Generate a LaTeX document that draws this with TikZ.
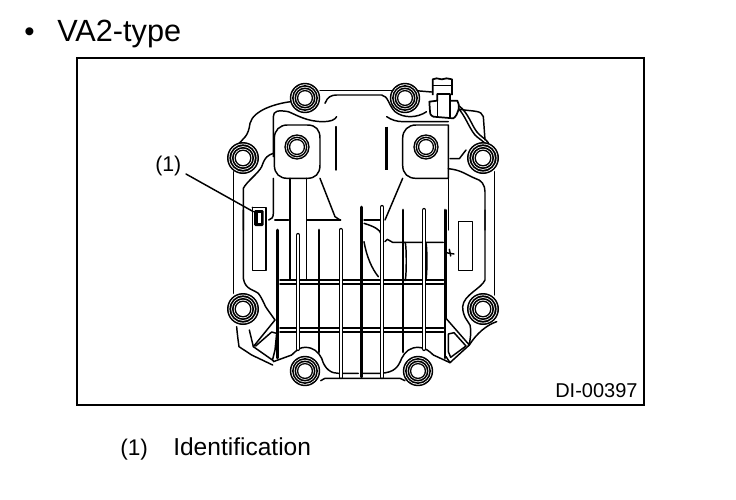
\documentclass[tikz,border=0pt]{standalone}
\usepackage{fontspec}
\setmainfont{Liberation Sans}
\tikzset{
 px/.style={x=0.75pt,y=-0.75pt},
 ink/.style={draw=black,line width=1.1pt,line cap=round,line join=round},
 crossrib/.style={draw=black,line width=1.35pt,line cap=round},
 heavy/.style={draw=black,line width=2.1pt,line cap=round},
 txt/.style={inner sep=0pt,anchor=base west,text=black},
 zone/.style={shift={(210,#1)},x=0.25pt,y=-0.25pt}
}
\newcommand{\bolt}[3]{%
 \foreach \r/\c in {1.0/black,0.90/white,0.85/black,0.74/white,0.69/black,0.58/white,0.53/black,0.44/white}{\fill[\c] (#1,#2) circle (#3*\r);}}
\newcommand{\boltb}[3]{%
 \foreach \r/\c in {1.0/black,0.88/white,0.82/black,0.70/white,0.64/black,0.53/white}{\fill[\c] (#1,#2) circle (#3*\r);}}
\begin{document}
\begin{tikzpicture}[px]
\useasboundingbox (0,0) rectangle (736,500);
\fill[white] (0,0) rectangle (736,500);
\node[txt,font=\fontsize{22}{26}\selectfont] (bullet) at (24,41) {•};
\node[txt,font=\fontsize{23}{26}\selectfont] (title) at (57,41) {VA2-type};
\draw[black,line width=1pt] (77,58) rectangle (644,405);
\node[txt,font=\fontsize{15}{18}\selectfont] (code) at (555,397) {DI-00397};
\node[txt,font=\fontsize{16}{18}\selectfont] (lab) at (155,171) {(1)};
\node[txt,font=\fontsize{17}{20}\selectfont] (n1) at (120,455) {(1)};
\node[txt,font=\fontsize{18.4}{20}\selectfont] (n2) at (173,455) {Identification};

% horizontal ribs
\begin{scope}[zone=210]
 \foreach \y in {211,222,355,365}{\draw[crossrib] (210,\y) -- (700,\y);}
 % bottom edge
 \draw[ink] (190,455) -- (245,435) .. controls (260,420) and (270,412) .. (285,412) .. controls (310,412) and (325,425) .. (335,445) .. controls (345,480) and (365,490) .. (385,490) -- (445,490);
 \draw[ink] (460,490) -- (510,490) .. controls (555,488) and (565,470) .. (575,445) .. controls (585,425) and (600,412) .. (625,412) .. controls (645,412) and (660,425) .. (670,435) -- (720,458);
 \draw[ink] (332,512) -- (345,505) -- (570,505) -- (585,512);
 % lower left
 \draw[ink] (70,250) -- (70,0);
 \draw[ink] (100,0) -- (100,205) .. controls (105,240) and (135,240) .. (145,250) .. controls (160,270) and (165,290) .. (170,295) -- (195,330) -- (130,410);
 \draw[ink] (118,360) -- (130,410) -- (190,452);
 \draw[ink] (80,350) .. controls (82,375) and (85,395) .. (87,410) -- (125,435) -- (188,465);
 \draw[ink] (137,408) -- (185,366) -- (200,370) -- (195,420) -- (188,448);
 % lower right
 \draw[ink] (853,0) -- (853,255);
 \draw[ink] (825,0) -- (825,210) .. controls (815,235) and (760,255) .. (758,290) .. controls (758,320) and (775,335) .. (780,345) .. controls (785,370) and (780,385) .. (778,405) -- (708,325);
 \draw[ink] (860,335) .. controls (830,345) and (800,370) .. (778,405) -- (720,458) -- (708,440);
 \draw[ink] (715,372) -- (732,368) -- (768,408) -- (722,442) -- (715,425) -- cycle;
 % small boxes
 \draw[ink] (127,0) -- (127,182) -- (168,182) -- (168,0);
 \draw[ink] (746,35) rectangle (787,182);
 % wires & thin details
 \draw[ink] (462,40) .. controls (495,50) and (510,60) .. (512,70);
 \draw[ink] (462,95) .. controls (470,140) and (485,175) .. (505,200);
 \draw[ink] (525,95) -- (532,88) -- (548,97) -- (700,97);
 \draw[ink] (708,128) -- (732,132);
 \draw[ink] (718,118) -- (722,138);
 \draw[ink] (195,30) -- (235,30);
 \draw[ink] (293,30) -- (392,30);
 \draw[ink] (240,0) -- (240,208);
 \draw[ink] (290,0) -- (290,208);
 \draw[ink] (462,30) -- (510,30);
 \draw[ink] (585,97) .. controls (590,100) and (590,205) .. (585,212);
 \draw[ink] (647,97) .. controls (652,100) and (652,205) .. (647,212);
 \draw[ink] (710,0) -- (710,325);
\end{scope}

% vertical ribs: black
\foreach \x/\a/\b in {277.7/230/358,319/230/352,361.7/207/377,403/210/352,445/210/358}{
 \draw[heavy] (\x,\a) -- (\x,\b);}
% vertical ribs: open
\foreach \x/\a/\b in {298/235/349,340.7/230/377,382/207/377,424/210/349}{
 \draw[black,line width=3.2pt,line cap=round] (\x,\a) -- (\x,\b);
 \draw[white,line width=1.3pt,line cap=round] (\x,\a) -- (\x,\b);}

% upper part
\begin{scope}[zone=70]
 \draw[ink] (330,62) -- (545,62);
 \draw[ink] (618,62) -- (665,66);
 \draw[ink] (345,100) .. controls (352,80) and (365,75) .. (380,75) -- (515,75) .. controls (535,78) and (535,105) .. (555,125) .. controls (580,145) and (620,145) .. (650,125);
 \draw[ink] (243,95) .. controls (200,100) and (130,120) .. (120,160) .. controls (115,200) and (100,205) .. (85,222);
 \draw[ink] (190,260) -- (190,140) .. controls (190,122) and (205,120) .. (235,125) .. controls (260,135) and (290,155) .. (340,155) .. controls (360,155) and (375,150) .. (380,140);
 \draw[ink] (190,325) -- (190,430) .. controls (190,442) and (185,448) .. (176,450);
 \draw[ink] (195,450) -- (234,450);
 \draw[ink] (293,450) -- (385,450);
 \draw[ink] (530,140) .. controls (545,150) and (560,155) .. (580,155) -- (715,155);
 \draw[ink] (70,305) -- (70,480);
 \draw[ink] (100,480) -- (100,355) .. controls (110,335) and (145,310) .. (155,290) .. controls (165,260) and (175,255) .. (190,250);
 % plates
 \draw[ink] (232,165) -- (292,165) .. controls (318,165) and (330,180) .. (330,205) -- (330,285) .. controls (330,312) and (315,325) .. (292,325) -- (232,325) .. controls (210,325) and (193,312) .. (193,285) -- (193,205) .. controls (193,180) and (210,165) .. (232,165) -- cycle;
 \draw[ink] (618,165) -- (715,165) -- (715,325) -- (618,325) .. controls (595,325) and (578,312) .. (578,285) -- (578,205) .. controls (578,180) and (595,165) .. (618,165) -- cycle;
 \draw[ink] (378,170) -- (378,300);
 \draw[heavy,line cap=butt] (530,170) -- (530,300);
 \draw[ink] (240,325) -- (240,480);
 \draw[ink] (290,325) -- (290,480);
 \draw[ink] (330,325) -- (375,440) -- (390,450);
 \draw[ink] (578,325) -- (525,450);
 \draw[ink] (715,325) -- (715,480);
 % right side
 \draw[ink] (750,118) .. controls (790,125) and (815,120) .. (820,140) -- (825,210);
 \draw[ink] (748,108) .. controls (775,130) and (785,165) .. (800,185) .. controls (812,200) and (825,205) .. (835,218);
 \draw[ink] (742,112) .. controls (765,135) and (775,170) .. (795,195) .. controls (805,205) and (815,210) .. (825,220);
 \draw[ink] (720,266) -- (748,266) -- (768,240);
 \draw[ink] (715,296) .. controls (755,300) and (770,315) .. (795,325) .. controls (815,330) and (825,345) .. (825,365) -- (825,480);
 \draw[ink] (853,305) -- (853,480);
 % (1) identification tag
 \draw[ink] (127,412) -- (168,412) -- (168,480);
 \draw[ink] (127,412) -- (127,480);
 \fill[black,rounded corners=1pt] (132,420) rectangle (161,468);
 \fill[white] (143,428) rectangle (152,458);
 \coordinate (tagend) at (130,425);
\end{scope}

% connector
\begin{scope}[zone=70]
 \fill[white] (652,88) rectangle (745,145);
 \draw[black,line width=1.3pt,line join=round,fill=white] (668,75) -- (668,28) -- (680,25) -- (695,28) -- (710,25) -- (726,28) -- (726,75);
 \draw[ink] (670,46) -- (724,46);
 \draw[black,line width=1.3pt,line join=round] (660,125) -- (658,95) -- (682,92) -- (682,72) -- (720,72) -- (720,92) -- (742,92) .. controls (752,105) and (745,135) .. (730,145) -- (670,140) .. controls (660,135) and (660,130) .. (660,125);
 \draw[ink] (682,92) -- (682,138);
 \draw[ink] (720,92) -- (720,142);
\end{scope}

% bolts
\bolt{305}{98}{11.4pt}
\bolt{405}{98}{11.4pt}
\bolt{243}{158}{12pt}
\bolt{483}{158}{12pt}
\boltb{297}{147}{9.5pt}
\boltb{426}{147}{9.5pt}
\bolt{243}{309}{12pt}
\bolt{483}{309}{12pt}
\bolt{305}{371}{11.4pt}
\bolt{418}{371}{11.4pt}

\coordinate (labtail) at (186,174);
\draw[ink] (labtail) -- (tagend);
\end{tikzpicture}
\end{document}
